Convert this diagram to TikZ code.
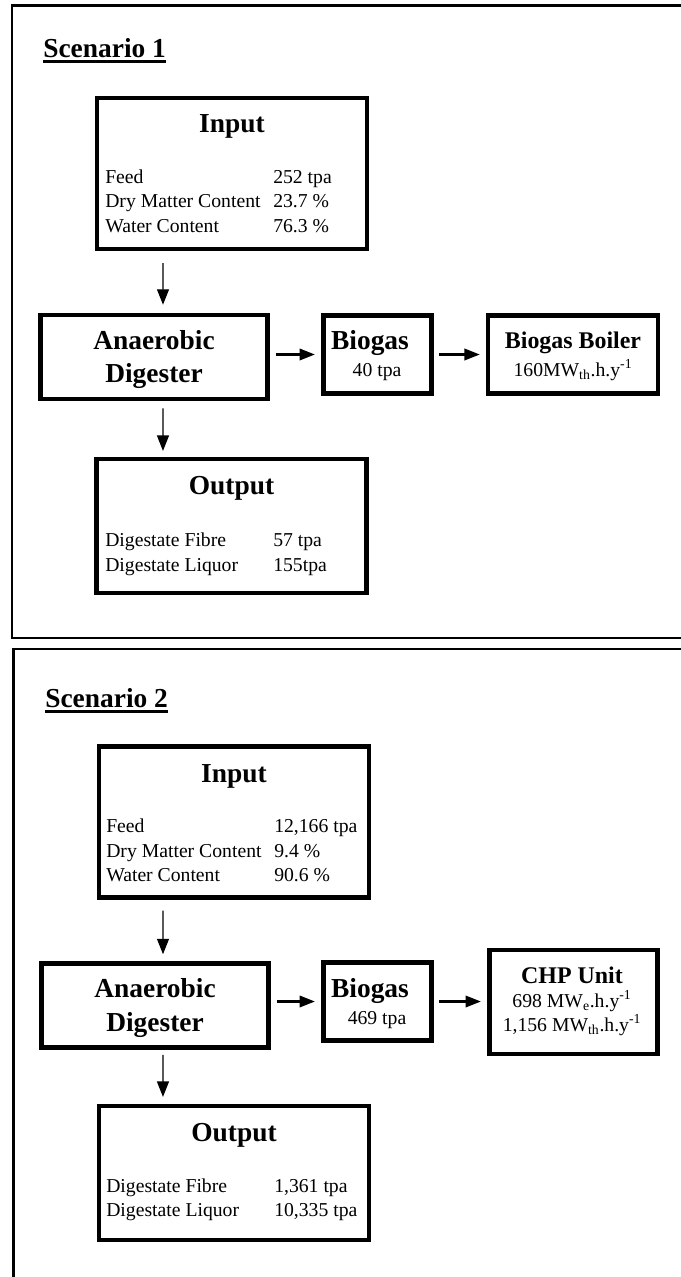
\documentclass[tikz,border=0pt]{standalone}
\usepackage{fontspec}
\setmainfont{Liberation Serif}
\usetikzlibrary{arrows.meta,positioning,calc}
\tikzset{
  panel/.style={draw, line width=2pt},
  blok/.style={rectangle, draw, line width=3.2pt, inner sep=0pt},
  inblok/.style={blok, minimum width=6.75cm, minimum height=3.77cm},
  adblok/.style={blok, minimum width=5.67cm, minimum height=2.1cm},
  bioblok/.style={blok, minimum width=2.71cm, minimum height=1.96cm},
  outblok/.style={blok, minimum width=6.75cm, minimum height=3.34cm},
  ttl/.style={inner sep=0pt, anchor=base, font=\fontsize{19.5}{23}\selectfont\bfseries},
  ttlsm/.style={inner sep=0pt, anchor=base, font=\fontsize{17}{20}\selectfont\bfseries},
  subtxt/.style={inner sep=0pt, anchor=base, font=\fontsize{14}{17}\selectfont},
  rowtxt/.style={inner sep=0pt, anchor=base west, font=\fontsize{14}{17}\selectfont},
  arrv/.style={-{Triangle[length=11pt,width=8.5pt]}, line width=0.9pt},
  arrh/.style={-{Triangle[length=11pt,width=8pt]}, line width=1.9pt},
  uline/.style={line width=1.9pt},
}

\begin{document}
\begin{tikzpicture}[x=0.025cm, y=-0.025cm]
\useasboundingbox (0,0) rectangle (680,1277);

% Scenario 1
\draw[panel] (12,5.5) rectangle (720,638);
\node[ttl, anchor=base west] (sc1) at (43,57) {Scenario 1};
\draw[uline] ([yshift=-3.2pt]sc1.base west) -- ([yshift=-3.2pt]sc1.base east);

\node[inblok] (in1) at (232,173.5) {};
\node[ttl] (in1t) at (232,132) {Input};
\node[rowtxt] (in1a) at (105,183) {Feed};
\node[rowtxt] (in1b) at (105,207) {Dry Matter Content};
\node[rowtxt] (in1c) at (105,232) {Water Content};
\node[rowtxt] (in1av) at (273,183) {252 tpa};
\node[rowtxt] (in1bv) at (273,207) {23.7 \%};
\node[rowtxt] (in1cv) at (273,232) {76.3 \%};

\node[adblok] (ad1) at (154,357) {};
\node[ttl] (ad1a) at (154,349) {Anaerobic};
\node[ttl] (ad1b) at (154,382) {Digester};

\node[bioblok] (bio1) at (377.5,354.5) {};
\node[ttl] (bio1t) at (370,349) {Biogas};
\node[subtxt] (bio1v) at (377,376) {40 tpa};

\node[blok, minimum width=4.24cm, minimum height=1.96cm] (boil1) at (573,354.5) {};
\node[ttlsm] (boil1t) at (573,348) {Biogas Boiler};
\node[subtxt] (boil1v) at (573,376) {160MW\textsubscript{th}.h.y\textsuperscript{-1}};

\node[outblok] (out1) at (231.5,526) {};
\node[ttl] (out1t) at (231.5,494) {Output};
\node[rowtxt] (out1a) at (105,546) {Digestate Fibre};
\node[rowtxt] (out1b) at (105,571) {Digestate Liquor};
\node[rowtxt] (out1av) at (273,546) {57 tpa};
\node[rowtxt] (out1bv) at (273,571) {155tpa};

\draw[arrv, shorten <=0.3cm, shorten >=0.2cm] ([xshift=-1.725cm]in1.south) -- ([xshift=0.225cm]ad1.north);
\draw[arrv, shorten <=0.175cm, shorten >=0.15cm] ([xshift=0.225cm]ad1.south) -- ([xshift=-1.7125cm]out1.north);
\draw[arrh, shorten <=0.15cm, shorten >=0.15cm] (ad1.east |- bio1.west) -- (bio1.west);
\draw[arrh, shorten <=0.125cm, shorten >=0.15cm] (bio1.east) -- (boil1.west);

% Scenario 2
\draw[panel] (13.5,649) rectangle (720,1320);
\node[ttl, anchor=base west] (sc2) at (45,707) {Scenario 2};
\draw[uline] ([yshift=-3.2pt]sc2.base west) -- ([yshift=-3.2pt]sc2.base east);

\node[inblok] (in2) at (234,822) {};
\node[ttl] (in2t) at (234,782) {Input};
\node[rowtxt] (in2a) at (106,832) {Feed};
\node[rowtxt] (in2b) at (106,857) {Dry Matter Content};
\node[rowtxt] (in2c) at (106,881) {Water Content};
\node[rowtxt] (in2av) at (274,832) {12,166 tpa};
\node[rowtxt] (in2bv) at (274,857) {9.4 \%};
\node[rowtxt] (in2cv) at (274,881) {90.6 \%};

\node[adblok] (ad2) at (155,1005.5) {};
\node[ttl] (ad2a) at (155,997) {Anaerobic};
\node[ttl] (ad2b) at (155,1031) {Digester};

\node[bioblok] (bio2) at (377.5,1001.5) {};
\node[ttl] (bio2t) at (370,997) {Biogas};
\node[subtxt] (bio2v) at (377,1024) {469 tpa};

\node[blok, minimum width=4.21cm, minimum height=2.59cm] (chp2) at (573.5,1002) {};
\node[ttlsm] (chp2t) at (572,983) {CHP Unit};
\node[subtxt] (chp2a) at (572,1007) {698 MW\textsubscript{e}.h.y\textsuperscript{-1}};
\node[subtxt] (chp2b) at (572,1031) {1,156 MW\textsubscript{th}.h.y\textsuperscript{-1}};

\node[outblok] (out2) at (234,1173) {};
\node[ttl] (out2t) at (234,1141) {Output};
\node[rowtxt] (out2a) at (106,1192) {Digestate Fibre};
\node[rowtxt] (out2b) at (106,1216) {Digestate Liquor};
\node[rowtxt] (out2av) at (274,1192) {1,361 tpa};
\node[rowtxt] (out2bv) at (274,1216) {10,335 tpa};

\draw[arrv, shorten <=0.275cm, shorten >=0.175cm] ([xshift=-1.775cm]in2.south) -- ([xshift=0.2cm]ad2.north);
\draw[arrv, shorten <=0.125cm, shorten >=0.175cm] ([xshift=0.2cm]ad2.south) -- ([xshift=-1.775cm]out2.north);
\draw[arrh, shorten <=0.15cm, shorten >=0.15cm] (ad2.east |- bio2.west) -- (bio2.west);
\draw[arrh, shorten <=0.125cm, shorten >=0.15cm] (bio2.east) -- (chp2.west |- bio2.east);
\end{tikzpicture}
\end{document}
